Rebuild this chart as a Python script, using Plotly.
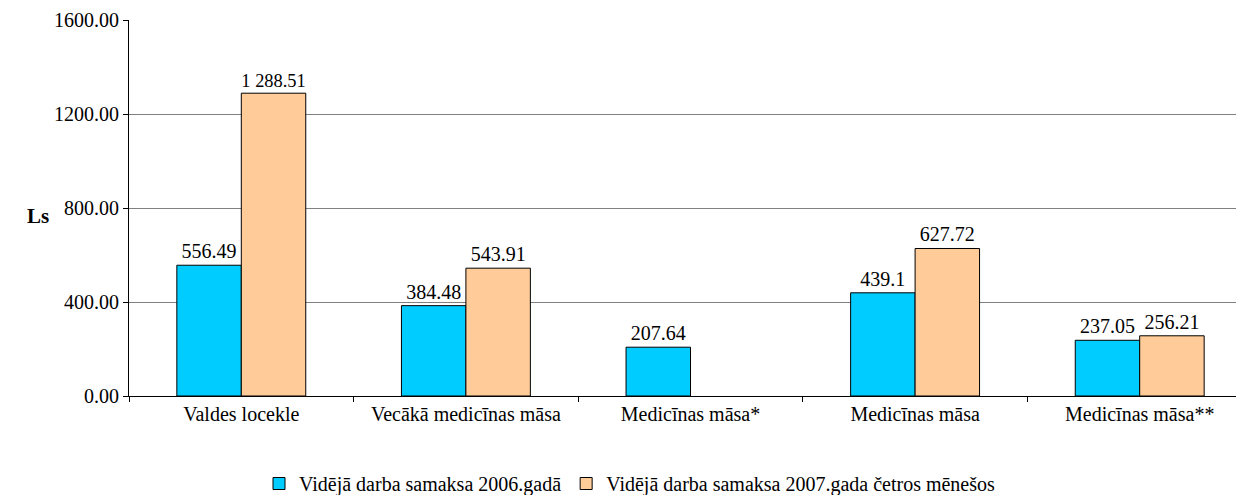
import plotly.graph_objects as go

categories = ["Valdes locekle", "Vecākā medicīnas māsa", "Medicīnas māsa*", "Medicīnas māsa", "Medicīnas māsa**"]
series_2006 = [556.49, 384.48, 207.64, 439.1, 237.05]
series_2007 = [1288.51, 543.91, None, 627.72, 256.21]
labels_2006 = ["556.49", "384.48", "207.64", "439.1", "237.05"]
labels_2007 = ["1 288.51", "543.91", "", "627.72", "256.21"]
name_2006 = "Vidējā darba samaksa 2006.gadā"
name_2007 = "Vidējā darba samaksa 2007.gada četros mēnešos"
y_ticks = [0, 400, 800, 1200, 1600]

font = "Liberation Serif"
fs = 20

fig = go.Figure()
fig.add_trace(go.Bar(
    x=categories, y=series_2006, name=name_2006,
    text=labels_2006, textposition="outside", cliponaxis=False,
    textfont=dict(size=fs, color="black", family=font),
    marker=dict(color="#00CCFF", line=dict(color="black", width=1)),
))
fig.add_trace(go.Bar(
    x=categories, y=series_2007, name=name_2007,
    text=labels_2007, textposition="outside", cliponaxis=False,
    textfont=dict(size=fs, color="black", family=font),
    marker=dict(color="#FFCC99", line=dict(color="black", width=1)),
))

fig.update_layout(
    width=1244, height=495,
    margin=dict(l=121, r=0, t=12, b=107),
    paper_bgcolor="white", plot_bgcolor="white",
    font=dict(family=font, size=fs, color="black"),
    barmode="group", bargap=0.426, bargroupgap=0,
    showlegend=True,
    legend=dict(orientation="h", xref="container", x=0.5, xanchor="center",
                yref="container", y=0.0, yanchor="bottom",
                font=dict(size=fs, family=font), itemwidth=30,
                traceorder="normal"),
    annotations=[dict(text="<b>Ls</b>", xref="paper", yref="paper", x=-0.081, y=0.48,
                      xanchor="center", yanchor="middle", showarrow=False,
                      font=dict(size=21, family=font, color="black"))],
)
fig.update_xaxes(
    range=[-0.5, 4.5],
    showline=True, linecolor="black", linewidth=1,
    ticks="outside", ticklen=5, tickcolor="black", tickson="boundaries",
    showgrid=False, tickfont=dict(size=fs, family=font),
)
fig.update_yaxes(
    range=[0, 1600], tickvals=y_ticks, tickformat=".2f",
    showline=True, linecolor="black", linewidth=1,
    ticks="outside", ticklen=5, tickcolor="black",
    showgrid=True, gridcolor="#808080", gridwidth=1,
    zeroline=False, tickfont=dict(size=fs, family=font),
)

fig.write_html("out.html")
